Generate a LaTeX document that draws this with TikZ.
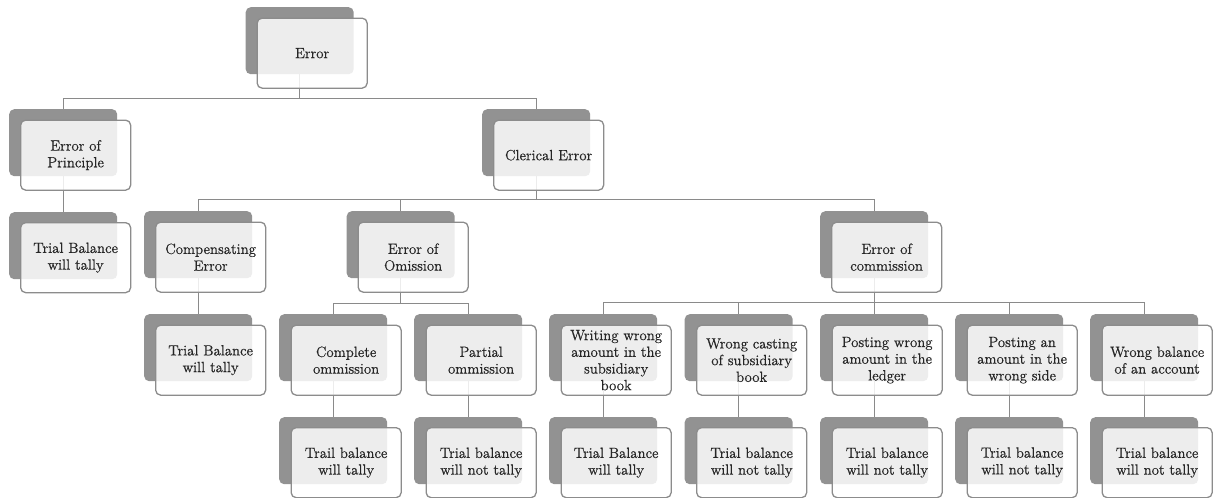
\documentclass[tikz,border=0pt]{standalone}
\usepackage{fontspec}
\newfontfamily\boxfont{lmroman12-regular.otf}[FakeBold=0.6]
\definecolor{backgray}{HTML}{929292}
\definecolor{edgegray}{HTML}{8C8C8C}
\definecolor{linegray}{HTML}{8A8A8A}
\definecolor{textgray}{HTML}{262626}
\begin{document}
\begin{tikzpicture}[x=1pt,y=-1pt,
  backbox/.style={anchor=north west, fill=backgray, rounded corners=5pt,
    minimum width=108pt, minimum height=67pt, inner sep=0pt},
  frontbox/.style={anchor=north west, draw=edgegray, line width=1.3pt, fill=white,
    fill opacity=0.84, text opacity=1, text=textgray, rounded corners=5pt,
    minimum width=110pt, minimum height=70pt, inner sep=0pt, align=center,
    font=\boxfont\fontsize{14.8}{16.7}\selectfont},
  conn/.style={draw=linegray, line width=1.4pt}]
\useasboundingbox (0,0) rectangle (1216,498);
% ---- back (dark) boxes ----
\node[backbox] (err-b)  at (245.5,7) {};
\node[backbox] (prin-b) at (9,109) {};
\node[backbox] (cler-b) at (482,109) {};
\node[backbox] (tb1-b)  at (9,212) {};
\node[backbox] (comp-b) at (144,211) {};
\node[backbox] (omi-b)  at (346.5,211) {};
\node[backbox] (com-b)  at (820,211) {};
\node[backbox] (tb2-b)  at (144,314) {};
\node[backbox] (cpl-b)  at (279,314) {};
\node[backbox] (par-b)  at (414,314) {};
\node[backbox] (wri-b)  at (549,314) {};
\node[backbox] (cas-b)  at (684.5,314) {};
\node[backbox] (pwr-b)  at (820,314) {};
\node[backbox] (pam-b)  at (955,314) {};
\node[backbox] (wba-b)  at (1090,314) {};
\node[backbox] (t3-b) at (279,417) {};
\node[backbox] (t4-b) at (414,417) {};
\node[backbox] (t5-b) at (549,417) {};
\node[backbox] (t6-b) at (684.5,417) {};
\node[backbox] (t7-b) at (820,417) {};
\node[backbox] (t8-b) at (955,417) {};
\node[backbox] (t9-b) at (1090,417) {};
% ---- connectors ----
\draw[conn] (err-b.south) -- ++(0,24) coordinate (j0) -| (prin-b.north);
\draw[conn] (j0) -| (cler-b.north);
\draw[conn] (prin-b.south) -- (tb1-b.north);
\draw[conn] (cler-b.south) -- ++(0,23) coordinate (j1) -| (comp-b.north);
\draw[conn] (j1) -| (omi-b.north);
\draw[conn] (j1) -| (com-b.north);
\draw[conn] (comp-b.south) -- (tb2-b.north);
\draw[conn] (omi-b.south) -- ++(0,25) coordinate (j2) -| (cpl-b.north);
\draw[conn] (j2) -| (par-b.north);
\draw[conn] (com-b.south) -- ++(0,24) coordinate (j3) -| (wri-b.north);
\draw[conn] (j3) -| (cas-b.north);
\draw[conn] (j3) -- (pwr-b.north);
\draw[conn] (j3) -| (pam-b.north);
\draw[conn] (j3) -| (wba-b.north);
\draw[conn] (cpl-b.south) -- (t3-b.north);
\draw[conn] (par-b.south) -- (t4-b.north);
\draw[conn] (wri-b.south) -- (t5-b.north);
\draw[conn] (cas-b.south) -- (t6-b.north);
\draw[conn] (pwr-b.south) -- (t7-b.north);
\draw[conn] (pam-b.south) -- (t8-b.north);
\draw[conn] (wba-b.south) -- (t9-b.north);
% ---- front boxes ----
\node[frontbox] (err)  at (256.5,17.5) {Error};
\node[frontbox] (prin) at (20,119.5) {Error of\\Principle};
\node[frontbox] (cler) at (493,119.5) {Clerical Error};
\node[frontbox] (tb1)  at (20,222) {Trial Balance\\will tally};
\node[frontbox] (comp) at (155,221.5) {Compensating\\Error};
\node[frontbox] (omi)  at (357.5,221.5) {Error of\\Omission};
\node[frontbox] (com)  at (831,221.5) {Error of\\commission};
\node[frontbox] (tb2)  at (155,324.5) {Trial Balance\\will tally};
\node[frontbox] (cpl)  at (290.5,324.5) {Complete\\ommission};
\node[frontbox] (par)  at (425.5,324.5) {Partial\\ommission};
\node[frontbox] (wri)  at (560.5,324.5) {Writing wrong\\amount in the\\subsidiary\\book};
\node[frontbox] (cas)  at (696,324.5) {Wrong casting\\of subsidiary\\book};
\node[frontbox] (pwr)  at (831.5,324.5) {Posting wrong\\amount in the\\ledger};
\node[frontbox] (pam)  at (966.5,324.5) {Posting an\\amount in the\\wrong side};
\node[frontbox] (wba)  at (1101.5,324.5) {Wrong balance\\of an account};
\node[frontbox] (t3) at (290.5,427) {Trail balance\\will tally};
\node[frontbox] (t4) at (425.5,427) {Trial balance\\will not tally};
\node[frontbox] (t5) at (560.5,427) {Trial Balance\\will tally};
\node[frontbox] (t6) at (696,427) {Trial balance\\will not tally};
\node[frontbox] (t7) at (831.5,427) {Trial balance\\will not tally};
\node[frontbox] (t8) at (966.5,427) {\raisebox{12pt}{\begin{tabular}{@{}c@{}}Trial balance\\will not tally\end{tabular}}};
\node[frontbox] (t9) at (1101.5,427) {Trial balance\\will not tally};
\end{tikzpicture}
\end{document}
